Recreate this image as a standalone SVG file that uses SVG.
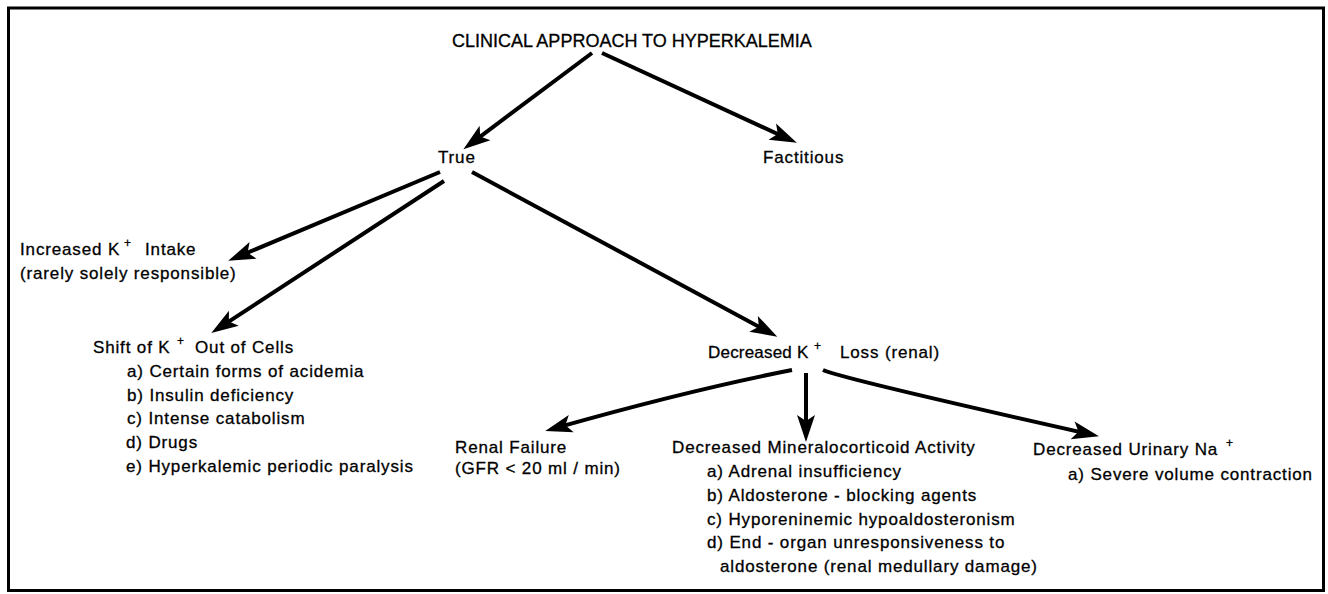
<svg xmlns="http://www.w3.org/2000/svg" width="1328" height="594" viewBox="0 0 1328 594">
<defs>
<marker id="ah" markerUnits="userSpaceOnUse" markerWidth="40" markerHeight="40" refX="0" refY="0" orient="auto" viewBox="-20 -20 40 40" overflow="visible">
<path d="M14,0 L-13,-9 L-7,0 L-13,9 Z" fill="#000"/>
</marker>
<style>
.t{font-family:"Liberation Sans",Arial,sans-serif;font-size:17px;letter-spacing:0.85px;fill:#000;stroke:#000;stroke-width:0.3}
.title{font-family:"Liberation Sans",Arial,sans-serif;font-size:18px;fill:#000;stroke:#000;stroke-width:0.3}
.sup{font-size:12px}
.tight{letter-spacing:0.2px}
.c{stroke:#000;stroke-width:4;fill:none;marker-end:url(#ah)}
</style>
</defs>
<rect x="0" y="0" width="1328" height="594" fill="#fff"/>
<rect x="8.5" y="8" width="1315" height="582.5" fill="none" stroke="#000" stroke-width="3"/>
<g id="connectors">
<line class="c" x1="592" y1="53" x2="474.6" y2="140.8"/>
<line class="c" x1="602" y1="53" x2="784.1" y2="137"/>
<line class="c" x1="440" y1="172" x2="241.1" y2="255.4"/>
<line class="c" x1="444" y1="181" x2="223" y2="325.4"/>
<line class="c" x1="472" y1="172" x2="765" y2="330"/>
<path class="c" d="M792,370 Q690,390 558.7,427.1"/>
<line class="c" x1="806" y1="373" x2="806" y2="428"/>
<path class="c" d="M823,370 Q840,378 1085.3,433.2"/>
</g>
<g id="n-title"><text class="title" x="452" y="47">CLINICAL APPROACH TO HYPERKALEMIA</text></g>
<g id="n-true"><text class="t" x="438" y="163">True</text></g>
<g id="n-factitious"><text class="t" x="763" y="163">Factitious</text></g>
<g id="n-intake">
<text class="t" x="20" y="255">Increased K<tspan class="sup" x="124" y="247">+</tspan><tspan x="145" y="255">Intake</tspan></text>
<text class="t" x="20" y="279">(rarely solely responsible)</text>
</g>
<g id="n-shift">
<text class="t" x="93" y="353">Shift of K<tspan class="sup" x="177" y="345">+</tspan><tspan x="195" y="353">Out of Cells</tspan></text>
<text class="t" x="127" y="377">a) Certain forms of acidemia</text>
<text class="t" x="127" y="401">b) Insulin deficiency</text>
<text class="t" x="127" y="424">c) Intense catabolism</text>
<text class="t" x="126" y="448">d) Drugs</text>
<text class="t" x="126" y="472">e) Hyperkalemic periodic paralysis</text>
</g>
<g id="n-decreased">
<text class="t" x="708" y="358"><tspan class="tight">Decreased K</tspan><tspan class="sup" x="814" y="350">+</tspan><tspan x="840" y="358">Loss (renal)</tspan></text>
</g>
<g id="n-renal">
<text class="t" x="455" y="453">Renal Failure</text>
<text class="t" x="455" y="474">(GFR &lt; 20 ml / min)</text>
</g>
<g id="n-mineral">
<text class="t" x="672" y="453">Decreased Mineralocorticoid Activity</text>
<text class="t" x="707" y="477">a) Adrenal insufficiency</text>
<text class="t" x="707" y="501">b) Aldosterone - blocking agents</text>
<text class="t" x="707" y="525">c) Hyporeninemic hypoaldosteronism</text>
<text class="t" x="707" y="548">d) End - organ unresponsiveness to</text>
<text class="t" x="720" y="572">aldosterone (renal medullary damage)</text>
</g>
<g id="n-urinary">
<text class="t" x="1033" y="455">Decreased Urinary Na<tspan class="sup" x="1226" y="447">+</tspan></text>
<text class="t" x="1068" y="480">a) Severe volume contraction</text>
</g>
</svg>
